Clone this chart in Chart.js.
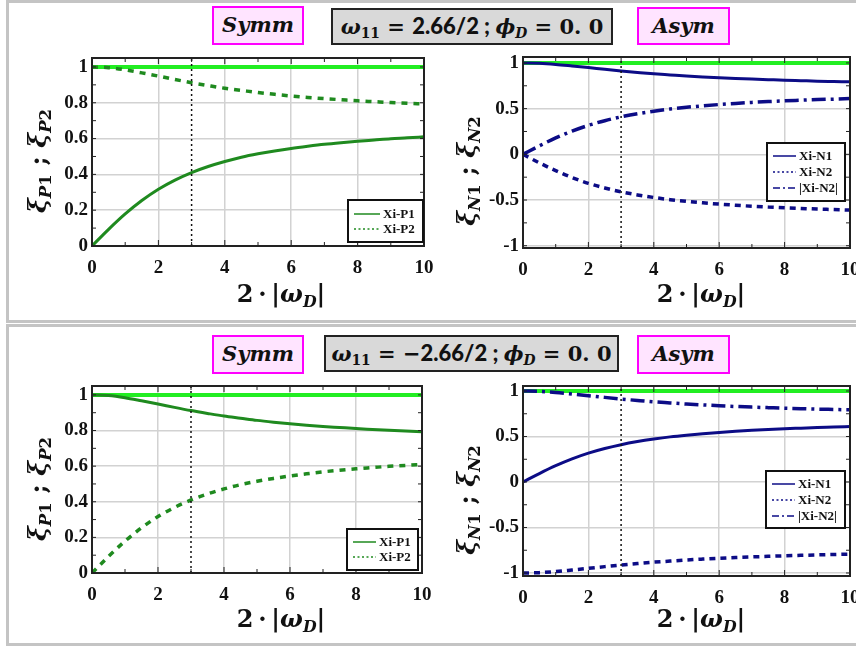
<!DOCTYPE html>
<html>
<head>
<meta charset="utf-8">
<script src="https://cdn.jsdelivr.net/npm/chart.js@4.4.1/dist/chart.umd.min.js"></script>
<style>
body { margin: 0; background: #fff; }
#wrap { position: relative; width: 856px; height: 650px; overflow: hidden; }
.frame { position: absolute; border: 3px solid #c4c4c4; box-sizing: border-box; }
canvas { position: absolute; }
.tag { position: absolute; box-sizing: border-box; text-align: center; white-space: nowrap; color: #111; }
.sym { border: 2px solid #ff00ff; background: #ffe4ff; font: italic bold 21px 'DejaVu Serif'; line-height: 34px; }
.par { border: 2px solid #222; background: #d9d9d9; font: bold 21px 'DejaVu Serif'; line-height: 31px; }
.sans { font-family: 'Lato', 'DejaVu Sans'; font-weight: 900; font-size: 22px; }
.ttl { position: absolute; white-space: nowrap; font: bold 24px 'DejaVu Serif'; color: #111; transform: translate(-50%, -50%); }
.ttl.rot { transform: translate(-50%, -50%) rotate(-90deg); font-size: 25px; }
i { font-style: italic; }
sub { font-size: 0.66em; position: relative; top: 0.32em; vertical-align: baseline; line-height: 0; }
</style>
</head>
<body>
<div id="wrap">
  <div class="frame" style="left:6px;top:0;width:870px;height:323px"></div>
  <div class="frame" style="left:6px;top:324px;width:870px;height:322px"></div>

  <div class="tag sym" style="left:212px;top:6px;width:92px;height:39px">Symm</div>
  <div class="tag par" style="left:331px;top:8px;width:282px;height:37px"><i>ω</i><sub>11</sub> = <span class="sans">2.66/2 ; </span><i>ϕ</i><sub><i>D</i></sub> = 0. 0</div>
  <div class="tag sym" style="left:637px;top:7px;width:93px;height:38px">Asym</div>

  <div class="tag sym" style="left:212px;top:335px;width:92px;height:39px">Symm</div>
  <div class="tag par" style="left:324px;top:335px;width:295px;height:37px"><i>ω</i><sub>11</sub> = −<span class="sans">2.66/2 ; </span><i>ϕ</i><sub><i>D</i></sub> = 0. 0</div>
  <div class="tag sym" style="left:637px;top:335px;width:93px;height:39px">Asym</div>

  <canvas id="cTL" width="440" height="322" style="left:0;top:0"></canvas>
  <canvas id="cTR" width="428" height="322" style="left:428px;top:0"></canvas>
  <canvas id="cBL" width="440" height="322" style="left:0;top:324px"></canvas>
  <canvas id="cBR" width="428" height="322" style="left:428px;top:324px"></canvas>

  <div class="ttl rot" style="left:37px;top:161px"><i>ξ</i><sub><i>P</i>1</sub> ; <i>ξ</i><sub><i>P</i>2</sub></div>
  <div class="ttl rot" style="left:466px;top:171px"><i>ξ</i><sub><i>N</i>1</sub> ; <i>ξ</i><sub><i>N</i>2</sub></div>
  <div class="ttl rot" style="left:37px;top:489px"><i>ξ</i><sub><i>P</i>1</sub> ; <i>ξ</i><sub><i>P</i>2</sub></div>
  <div class="ttl rot" style="left:466px;top:500px"><i>ξ</i><sub><i>N</i>1</sub> ; <i>ξ</i><sub><i>N</i>2</sub></div>

  <div class="ttl" style="left:281px;top:293px">2&thinsp;·&thinsp;|<i>ω</i><sub><i>D</i></sub>|</div>
  <div class="ttl" style="left:701px;top:293px">2&thinsp;·&thinsp;|<i>ω</i><sub><i>D</i></sub>|</div>
  <div class="ttl" style="left:281px;top:618px">2&thinsp;·&thinsp;|<i>ω</i><sub><i>D</i></sub>|</div>
  <div class="ttl" style="left:701px;top:618px">2&thinsp;·&thinsp;|<i>ω</i><sub><i>D</i></sub>|</div>
</div>

<script>
// x values: 2*|omega_D|
var omegaD2 = [0, 0.5, 1, 1.5, 2, 2.5, 3, 3.5, 4, 4.5, 5, 5.5, 6, 6.5, 7, 7.5, 8, 8.5, 9, 9.5, 10];

// top row, omega11 = 2.66/2
var xiP1Top = [0, 0.093, 0.179, 0.254, 0.317, 0.368, 0.410, 0.444, 0.472, 0.496, 0.515, 0.531, 0.545, 0.557, 0.568, 0.577, 0.585, 0.592, 0.599, 0.604, 0.610];
var xiP2Top = [1, 0.996, 0.984, 0.967, 0.949, 0.930, 0.912, 0.896, 0.881, 0.869, 0.857, 0.847, 0.838, 0.830, 0.823, 0.817, 0.811, 0.806, 0.801, 0.797, 0.793];
var xiN1Top = [1, 0.996, 0.984, 0.967, 0.949, 0.930, 0.912, 0.896, 0.881, 0.869, 0.857, 0.847, 0.838, 0.830, 0.823, 0.817, 0.811, 0.806, 0.801, 0.797, 0.793];
var xiN2Top = [0, -0.093, -0.179, -0.254, -0.317, -0.368, -0.410, -0.444, -0.472, -0.496, -0.515, -0.531, -0.545, -0.557, -0.568, -0.577, -0.585, -0.592, -0.599, -0.604, -0.610];
var absN2Top = [0, 0.093, 0.179, 0.254, 0.317, 0.368, 0.410, 0.444, 0.472, 0.496, 0.515, 0.531, 0.545, 0.557, 0.568, 0.577, 0.585, 0.592, 0.599, 0.604, 0.610];

// bottom row, omega11 = -2.66/2
var xiP1Bot = [1, 0.996, 0.984, 0.967, 0.949, 0.930, 0.912, 0.896, 0.881, 0.869, 0.857, 0.847, 0.838, 0.830, 0.823, 0.817, 0.811, 0.806, 0.801, 0.797, 0.793];
var xiP2Bot = [0, 0.093, 0.179, 0.254, 0.317, 0.368, 0.410, 0.444, 0.472, 0.496, 0.515, 0.531, 0.545, 0.557, 0.568, 0.577, 0.585, 0.592, 0.599, 0.604, 0.610];
var xiN1Bot = [0, 0.093, 0.179, 0.254, 0.317, 0.368, 0.410, 0.444, 0.472, 0.496, 0.515, 0.531, 0.545, 0.557, 0.568, 0.577, 0.585, 0.592, 0.599, 0.604, 0.610];
var xiN2Bot = [-1, -0.996, -0.984, -0.967, -0.949, -0.930, -0.912, -0.896, -0.881, -0.869, -0.857, -0.847, -0.838, -0.830, -0.823, -0.817, -0.811, -0.806, -0.801, -0.797, -0.793];
var absN2Bot = [1, 0.996, 0.984, 0.967, 0.949, 0.930, 0.912, 0.896, 0.881, 0.869, 0.857, 0.847, 0.838, 0.830, 0.823, 0.817, 0.811, 0.806, 0.801, 0.797, 0.793];

// sum of squares, flat at 1
var normLine = [1, 1, 1, 1, 1, 1, 1, 1, 1, 1, 1, 1, 1, 1, 1, 1, 1, 1, 1, 1, 1];

// vertical marker
var markerX = 3;

var xTicks = [0, 2, 4, 6, 8, 10];
var yTicksP = [0, 0.2, 0.4, 0.6, 0.8, 1];
var yTicksN = [-1, -0.5, 0, 0.5, 1];

var GREEN = '#1f8a1f', LIME = '#22ee22', NAVY = '#0c0c86';
var TICKFONT = { family: "'Liberation Serif', serif", weight: 'bold', size: 19 };

function pts(ys) {
    return omegaD2.map(function (x, i) { return { x: x, y: ys[i] }; });
}

function plainLabel(v) {
    return String(v);
}

var panelFrame = {
    id: 'panelFrame',
    afterDatasetsDraw: function (chart) {
        var ctx = chart.ctx, a = chart.chartArea;
        var xs = chart.scales.x, ys = chart.scales.y;
        ctx.save();
        ctx.strokeStyle = '#222';
        ctx.lineWidth = 1;
        // inward minor ticks
        for (var v = xs.min; v <= xs.max + 1e-9; v += 1) {
            var px = xs.getPixelForValue(v);
            var len = (v % 2 === 0) ? 6 : 4;
            ctx.beginPath();
            ctx.moveTo(px, a.bottom); ctx.lineTo(px, a.bottom - len);
            ctx.moveTo(px, a.top); ctx.lineTo(px, a.top + len);
            ctx.stroke();
        }
        var tk = chart.options.scales.y.ticks.stepSize / 2;
        for (var k = Math.ceil(ys.min / tk); k * tk <= ys.max + 1e-9; k++) {
            var py = ys.getPixelForValue(k * tk);
            ctx.beginPath();
            ctx.moveTo(a.left, py); ctx.lineTo(a.left + 4, py);
            ctx.moveTo(a.right, py); ctx.lineTo(a.right - 4, py);
            ctx.stroke();
        }
        ctx.lineWidth = 2;
        ctx.strokeRect(a.left, a.top, a.right - a.left, a.bottom - a.top);
        ctx.restore();
    }
};

var boxLegend = {
    id: 'boxLegend',
    afterDraw: function (chart, args, opts) {
        var ctx = chart.ctx, a = chart.chartArea;
        var items = chart.data.datasets.filter(function (d) { return d.legendDash; });
        var x = a.right - opts.right - opts.w, y = a.bottom - opts.bottom - opts.h;
        ctx.save();
        ctx.fillStyle = '#fff';
        ctx.fillRect(x, y, opts.w, opts.h);
        ctx.strokeStyle = '#111';
        ctx.lineWidth = 2;
        ctx.strokeRect(x, y, opts.w, opts.h);
        ctx.font = 'bold 13px "Liberation Serif"';
        ctx.textBaseline = 'middle';
        items.forEach(function (d, i) {
            var cy = y + opts.pad + i * opts.row;
            ctx.beginPath();
            ctx.setLineDash(d.legendDash);
            ctx.strokeStyle = d.borderColor;
            ctx.lineWidth = 1.5;
            ctx.moveTo(x + 6, cy);
            ctx.lineTo(x + 6 + opts.sample, cy);
            ctx.stroke();
            ctx.setLineDash([]);
            ctx.fillStyle = '#111';
            ctx.fillText(d.label, x + 9 + opts.sample, cy + 1);
        });
        ctx.restore();
    }
};

function line(label, ys, color, width, dash, legendDash) {
    return {
        label: label, data: pts(ys), borderColor: color, borderWidth: width,
        borderDash: dash, pointRadius: 0, cubicInterpolationMode: 'monotone',
        legendDash: legendDash
    };
}

function makePanel(id, datasets, yMin, yMax, yStep, yTicks, pad, yWidth, legend) {
    datasets.push({
        label: 'norm', data: pts(normLine), borderColor: LIME, borderWidth: 4,
        pointRadius: 0
    });
    datasets.unshift({
        label: 'marker', data: [{ x: markerX, y: yMin }, { x: markerX, y: yMax }],
        borderColor: '#111', borderWidth: 1.5, borderDash: [2, 3], pointRadius: 0
    });
    return new Chart(document.getElementById(id), {
        type: 'line',
        data: { datasets: datasets },
        options: {
            responsive: false,
            animation: false,
            layout: { padding: pad },
            plugins: { legend: { display: false }, tooltip: { enabled: false }, boxLegend: legend },
            scales: {
                x: {
                    type: 'linear', min: 0, max: 10,
                    afterBuildTicks: function (s) { s.ticks = xTicks.map(function (v) { return { value: v }; }); },
                    afterFit: function (s) { s.height = 30; s.paddingLeft = 0; s.paddingRight = 0; },
                    ticks: { font: TICKFONT, color: '#111', padding: 11, maxRotation: 0, callback: plainLabel },
                    grid: { color: '#d2d2d2', lineWidth: 1.5, drawTicks: false },
                    border: { display: false }
                },
                y: {
                    type: 'linear', min: yMin, max: yMax,
                    afterBuildTicks: function (s) { s.ticks = yTicks.map(function (v) { return { value: v }; }); },
                    afterFit: function (s) { s.width = yWidth; },
                    ticks: { stepSize: yStep, font: TICKFONT, color: '#111', padding: 4, callback: plainLabel },
                    grid: { color: '#d2d2d2', lineWidth: 1.5, drawTicks: false },
                    border: { display: false }
                }
            }
        },
        plugins: [panelFrame, boxLegend]
    });
}

makePanel('cTL', [
    line('Xi-P1', xiP1Top, GREEN, 3, [], [0]),
    line('Xi-P2', xiP2Top, GREEN, 3.5, [6, 6], [2, 2.5])
], 0, 1.05, 0.2, yTicksP, { left: 0, top: 58, right: 16, bottom: 46 }, 92,
    { right: 1, bottom: 4, w: 75, h: 42, pad: 14, row: 15, sample: 26 });

makePanel('cTR', [
    line('Xi-N1', xiN1Top, NAVY, 3, [], [0]),
    line('Xi-N2', xiN2Top, NAVY, 3.5, [6, 5], [2, 2.5]),
    line('|Xi-N2|', absN2Top, NAVY, 3.5, [14, 5, 3, 5], [7, 3, 2, 3])
], -1.025, 1.065, 0.5, yTicksN, { left: 0, top: 57, right: 6, bottom: 44 }, 95,
    { right: 5, bottom: 47, w: 78, h: 58, pad: 13, row: 16, sample: 23 });

makePanel('cBL', [
    line('Xi-P1', xiP1Bot, GREEN, 3, [], [0]),
    line('Xi-P2', xiP2Bot, GREEN, 3.5, [6, 6], [2, 2.5])
], 0, 1.05, 0.2, yTicksP, { left: 0, top: 62, right: 18, bottom: 43 }, 92,
    { right: 4, bottom: 3, w: 71, h: 41, pad: 13, row: 15, sample: 23 });

makePanel('cBR', [
    line('Xi-N1', xiN1Bot, NAVY, 3, [], [0]),
    line('Xi-N2', xiN2Bot, NAVY, 3.5, [6, 5], [2, 2.5]),
    line('|Xi-N2|', absN2Bot, NAVY, 3.5, [14, 5, 3, 5], [7, 3, 2, 3])
], -1.033, 1.055, 0.5, yTicksN, { left: 0, top: 62, right: 6, bottom: 40 }, 95,
    { right: 5, bottom: 48, w: 79, h: 57, pad: 13, row: 16, sample: 23 });
</script>
</body>
</html>
